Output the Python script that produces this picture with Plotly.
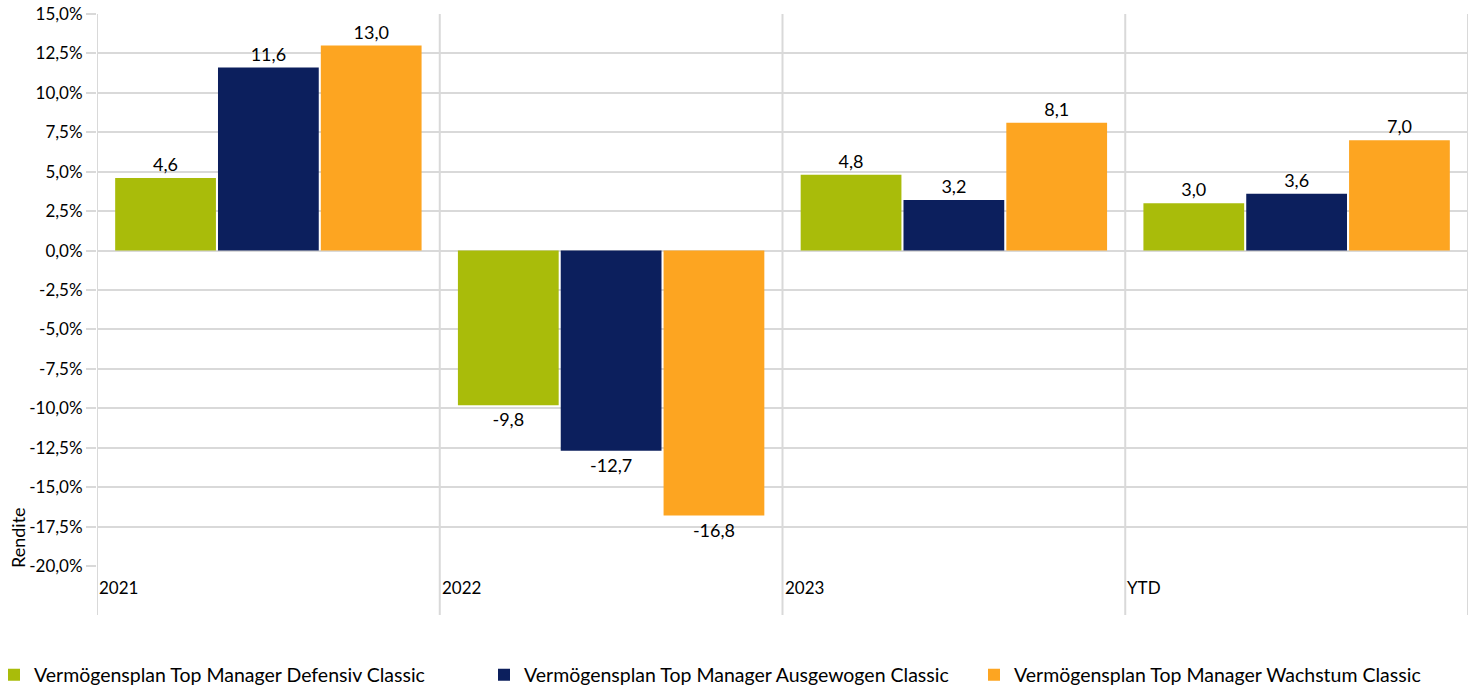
import plotly.graph_objects as go

categories = ["2021", "2022", "2023", "YTD"]
series_names = [
    "Vermögensplan Top Manager Defensiv Classic",
    "Vermögensplan Top Manager Ausgewogen Classic",
    "Vermögensplan Top Manager Wachstum Classic",
]
defensiv = [4.6, -9.8, 4.8, 3.0]
ausgewogen = [11.6, -12.7, 3.2, 3.6]
wachstum = [13.0, -16.8, 8.1, 7.0]
tick_vals = [15.0, 12.5, 10.0, 7.5, 5.0, 2.5, 0.0, -2.5, -5.0, -7.5, -10.0, -12.5, -15.0, -17.5, -20.0]
tick_text = ["15,0%", "12,5%", "10,0%", "7,5%", "5,0%", "2,5%", "0,0%", "-2,5%", "-5,0%",
             "-7,5%", "-10,0%", "-12,5%", "-15,0%", "-17,5%", "-20,0%"]
colors = ["#A9BC0A", "#0C1F5D", "#FDA521"]

FONT = "Lato, 'Open Sans', sans-serif"
GRID = "#D9D9D9"

# plot area pixel geometry
H_PLOT = 689 - 14 - 123
W_PLOT = 1472 - 97 - 4

legend_ids = ["legend", "legend2", "legend3"]
legend_px = [-6, 484, 974]

fig = go.Figure()
for name, vals, col, lid in zip(series_names, [defensiv, ausgewogen, wachstum], colors, legend_ids):
    fig.add_trace(go.Bar(
        x=categories, y=vals, name=name, marker=dict(color=col, line=dict(width=0)),
        text=[f"{v:.1f}".replace(".", ",") for v in vals],
        textposition="outside", cliponaxis=False, legend=lid,
        textfont=dict(family=FONT, size=18, color="#000000"),
    ))

shapes = []
for i in range(len(categories) + 1):
    shapes.append(dict(type="line", xref="x", yref="paper", x0=i - 0.5, x1=i - 0.5,
                       y0=-(615 - 566) / H_PLOT, y1=1, line=dict(color=GRID, width=2), layer="below"))

annotations = []
for i, c in enumerate(categories):
    annotations.append(dict(x=i - 0.5, y=-(587 - 566) / H_PLOT, xref="x", yref="paper",
                            text=c, showarrow=False, xanchor="left", yanchor="middle",
                            font=dict(family=FONT, size=17, color="#000000")))
annotations.append(dict(x=(18 - 97) / W_PLOT, y=(566 - 538) / H_PLOT, xref="paper", yref="paper",
                        text="Rendite", showarrow=False, textangle=-90, xanchor="center", yanchor="middle",
                        font=dict(family=FONT, size=18, color="#000000")))

legend_layout = {}
for lid, px in zip(legend_ids, legend_px):
    legend_layout[lid] = dict(orientation="h", x=(px - 97) / W_PLOT, xanchor="left",
                              y=-(675 - 566) / H_PLOT, yanchor="middle",
                              font=dict(family=FONT, size=19.5, color="#000000"),
                              bgcolor="rgba(0,0,0,0)")

fig.update_layout(
    width=1472, height=689,
    margin=dict(l=97, r=4, t=14, b=123, autoexpand=False),
    paper_bgcolor="white", plot_bgcolor="white",
    barmode="group", bargap=0.1, bargroupgap=0.02,
    font=dict(family=FONT, size=17, color="#000000"),
    showlegend=True,
    xaxis=dict(type="category", range=[-0.5, 3.5], showticklabels=False, showgrid=False,
               zeroline=False, showline=False, ticks=""),
    yaxis=dict(range=[-20, 15], tickvals=tick_vals, ticktext=tick_text, showgrid=True,
               gridcolor=GRID, gridwidth=2, zeroline=False, showline=False,
               ticks="outside", ticklen=10, tickcolor=GRID, tickwidth=2,
               tickfont=dict(family=FONT, size=17, color="#000000")),
    shapes=shapes, annotations=annotations,
    **legend_layout,
)

fig.write_html("out.html", config={"displayModeBar": False},
               post_script="document.body.style.margin='0';document.body.style.overflow='hidden';")
